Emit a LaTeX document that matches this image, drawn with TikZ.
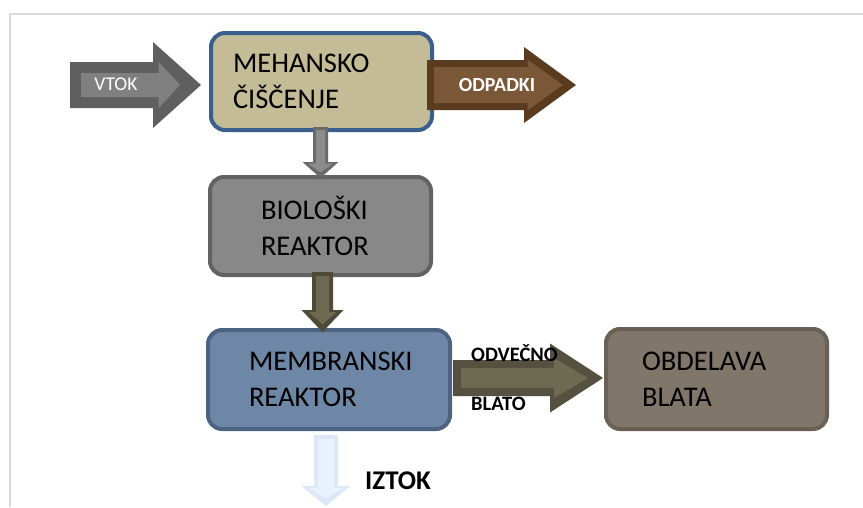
\documentclass[tikz,border=0pt]{standalone}
\usepackage{fontspec}
\setmainfont{Carlito}
\definecolor{frameg}{HTML}{D9D9D9}
\definecolor{mehfill}{HTML}{C4BC96}
\definecolor{mehline}{HTML}{3A5F8C}
\definecolor{biofill}{HTML}{888888}
\definecolor{bioline}{HTML}{626262}
\definecolor{memfill}{HTML}{6F87A6}
\definecolor{memline}{HTML}{4D6382}
\definecolor{obdfill}{HTML}{80766A}
\definecolor{obdline}{HTML}{6A6156}
\definecolor{vtokd}{HTML}{5F5F5F}
\definecolor{vtokl}{HTML}{808080}
\definecolor{odpd}{HTML}{5B3B20}
\definecolor{odpl}{HTML}{7A5737}
\definecolor{dnad}{HTML}{6A6A6A}
\definecolor{dnal}{HTML}{8C8C8C}
\definecolor{dnbd}{HTML}{4E4A37}
\definecolor{dnbl}{HTML}{6E6950}
\definecolor{odvd}{HTML}{55503F}
\definecolor{odvl}{HTML}{6E6A52}
\definecolor{izd}{HTML}{DAE8F7}
\definecolor{izl}{HTML}{E9F2FC}
% right block arrow: x left, head base x, tip x, centre y, shaft half, head half, inset, dark, light
\newcommand{\rblockarrow}[9]{%
 \fill[#8] (#1,#4-#5) -- (#2,#4-#5) -- (#2,#4-#6) -- (#3,#4) -- (#2,#4+#6) -- (#2,#4+#5) -- (#1,#4+#5) -- cycle;
 \fill[#9] (#1+#7,#4-#5+#7) -- (#2+0.5*#7,#4-#5+#7) -- (#2+0.5*#7,#4-#6+1.8*#7) -- (#3-1.9*#7,#4) -- (#2+0.5*#7,#4+#6-1.8*#7) -- (#2+0.5*#7,#4+#5-#7) -- (#1+#7,#4+#5-#7) -- cycle;}
% down block arrow: centre x, top y, head base y, tip y, shaft half, head half, inset, dark, light
\newcommand{\dblockarrow}[9]{%
 \fill[#8] (#1-#5,#2) -- (#1-#5,#3) -- (#1-#6,#3) -- (#1,#4) -- (#1+#6,#3) -- (#1+#5,#3) -- (#1+#5,#2) -- cycle;
 \fill[#9] (#1-#5+#7,#2+#7) -- (#1-#5+#7,#3+0.5*#7) -- (#1-#6+1.8*#7,#3+0.5*#7) -- (#1,#4-1.9*#7) -- (#1+#6-1.8*#7,#3+0.5*#7) -- (#1+#5-#7,#3+0.5*#7) -- (#1+#5-#7,#2+#7) -- cycle;}
\tikzset{
 procbox/.style={rounded corners=14pt, line width=4pt, align=left, anchor=center,
   font=\fontsize{28.5pt}{36pt}\selectfont, text=black, inner ysep=0pt},
 arrowlabel/.style={font=\fontsize{19.5pt}{22pt}\selectfont, text=white, inner sep=0pt, anchor=base},
 sidelabel/.style={font=\bfseries\fontsize{20.5pt}{22pt}\selectfont, text=black, inner sep=0pt, anchor=base west},
}
\begin{document}
\begin{tikzpicture}[x=1pt,y=-1pt]
\useasboundingbox (0,0) rectangle (863,507);
% frame lines
\draw[frameg, line width=1.5pt] (10,507) -- (10,14) -- (863,14);
% boxes
\node[procbox, draw=mehline, fill=mehfill, minimum width=221pt, minimum height=97pt,
      text width=177pt, inner xsep=22pt] (meh) at (321.5,81.5) {MEHANSKO\\ČIŠČENJE};
\node[procbox, draw=bioline, fill=biofill, minimum width=221pt, minimum height=98pt,
      text width=119pt, inner xsep=51pt] (bio) at (320.5,226) {BIOLOŠKI\\REAKTOR};
\node[procbox, draw=memline, fill=memfill, minimum width=242pt, minimum height=99pt,
      text width=160pt, inner xsep=41pt] (mem) at (329,379.5) {MEMBRANSKI\\REAKTOR};
\node[procbox, draw=obdline, fill=obdfill, minimum width=221pt, minimum height=100pt,
      text width=149pt, inner xsep=36pt] (obd) at (716.5,379) {OBDELAVA\\BLATA};
% block arrows
\rblockarrow{70}{153}{201}{85}{23}{43}{11}{vtokd}{vtokl}
\rblockarrow{427}{524}{576}{85}{25}{38}{7}{odpd}{odpl}
\dblockarrow{320.5}{127}{162}{178}{7.5}{18}{3}{dnad}{dnal}
\dblockarrow{322.5}{272}{310}{332}{10.5}{21}{4}{dnbd}{dnbl}
\rblockarrow{453}{550}{603}{378}{18}{34.5}{8}{odvd}{odvl}
\dblockarrow{326}{435}{486}{506}{12}{24.5}{4}{izd}{izl}
% labels
\node[arrowlabel] (vtok) at (116,90) {VTOK};
\node[arrowlabel, font=\bfseries\fontsize{20pt}{22pt}\selectfont] (odp) at (497,91) {ODPADKI};
\node[sidelabel] (odv) at (471,361) {ODVEČNO};
\node[sidelabel] (blato) at (471,410) {BLATO};
\node[sidelabel, font=\bfseries\fontsize{27pt}{28pt}\selectfont] (iztok) at (365,489) {IZTOK};
\end{tikzpicture}
\end{document}
